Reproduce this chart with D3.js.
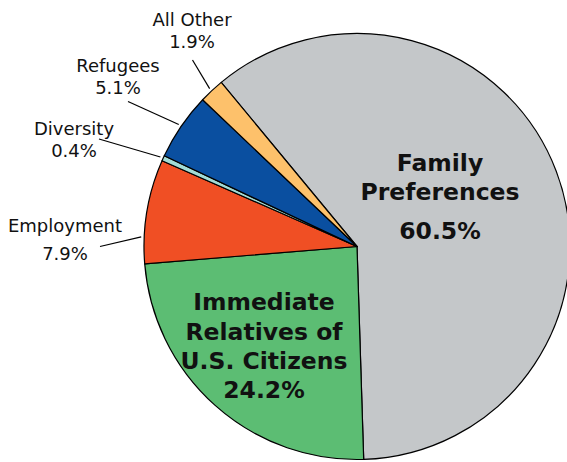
<!DOCTYPE html>
<html>
<head>
<meta charset="utf-8">
<script src="https://cdnjs.cloudflare.com/ajax/libs/d3/7.8.5/d3.min.js"></script>
<style>
  body { margin: 0; background: #fff; }
  svg { display: block; }
</style>
</head>
<body>
<svg id="chart"></svg>
<script>
// data, clockwise starting from the top-left edge of Family Preferences
var categories = ["Family Preferences", "Immediate Relatives of U.S. Citizens", "Employment", "Diversity", "Refugees", "All Other"];
var shares = [60.5, 24.2, 7.9, 0.4, 5.1, 1.9];
var shareLabels = ["60.5%", "24.2%", "7.9%", "0.4%", "5.1%", "1.9%"];
var colors = ["#c4c7c9", "#5cbd73", "#f04f24", "#a3dcd6", "#0a4fa0", "#fdc16b"];

var W = 567, H = 462;
var cx = 357, cy = 246.5, r = 213;
var rotate = -39.6 * Math.PI / 180;

var svg = d3.select("#chart").attr("width", W).attr("height", H);
var g = svg.append("g").attr("transform", "translate(" + cx + "," + cy + ")");

var pie = d3.pie().sort(null).value(function (d) { return d; })
    .startAngle(rotate).endAngle(rotate + 2 * Math.PI);
var arcs = pie(shares);
var arc = d3.arc().innerRadius(0).outerRadius(r);

g.selectAll("path.slice")
    .data(arcs)
    .enter().append("path")
    .attr("class", "slice")
    .attr("d", arc)
    .attr("fill", function (d, i) { return colors[i]; })
    .attr("stroke", "#000")
    .attr("stroke-width", 1.2)
    .attr("stroke-linejoin", "round");

// labels inside the big slices (page coordinates)
var inside = [
    { i: 0, x: 440, lines: ["Family", "Preferences"], ys: [171, 200], py: 239 },
    { i: 1, x: 264, lines: ["Immediate", "Relatives of", "U.S. Citizens"], ys: [310, 340, 369], py: 398 }
];
inside.forEach(function (L) {
    var t = svg.append("text")
        .attr("text-anchor", "middle")
        .attr("font-family", "DejaVu Sans, sans-serif")
        .attr("font-weight", "bold")
        .attr("font-size", 23.5)
        .attr("fill", "#111");
    L.lines.forEach(function (s, k) {
        t.append("tspan").attr("x", L.x).attr("y", L.ys[k]).text(s);
    });
    t.append("tspan").attr("x", L.x).attr("y", L.py).text(shareLabels[L.i]);
});

// labels outside the small slices, with leader lines
var outside = [
    { i: 2, name: "Employment", x: 65, y1: 232, y2: 260, lx: 100, ly: 246.5, da: -7 },
    { i: 3, name: "Diversity", x: 74, y1: 135, y2: 157, lx: 99, ly: 139, da: 0 },
    { i: 4, name: "Refugees", x: 118, y1: 72, y2: 94, lx: 128, ly: 101.5, da: 0 },
    { i: 5, name: "All Other", x: 192, y1: 26, y2: 48, lx: 192.5, ly: 60, da: 0 }
];
outside.forEach(function (L) {
    var a = arcs[L.i];
    var mid = (a.startAngle + a.endAngle) / 2 + L.da * Math.PI / 180;
    var ex = cx + (r + 3) * Math.sin(mid), ey = cy - (r + 3) * Math.cos(mid);
    svg.append("line")
        .attr("x1", L.lx).attr("y1", L.ly)
        .attr("x2", ex).attr("y2", ey)
        .attr("stroke", "#000").attr("stroke-width", 1.2);
    var t = svg.append("text")
        .attr("text-anchor", "middle")
        .attr("font-family", "DejaVu Sans, sans-serif")
        .attr("font-size", 18)
        .attr("fill", "#111");
    t.append("tspan").attr("x", L.x).attr("y", L.y1).text(L.name);
    t.append("tspan").attr("x", L.x).attr("y", L.y2).text(shareLabels[L.i]);
});
</script>
</body>
</html>
